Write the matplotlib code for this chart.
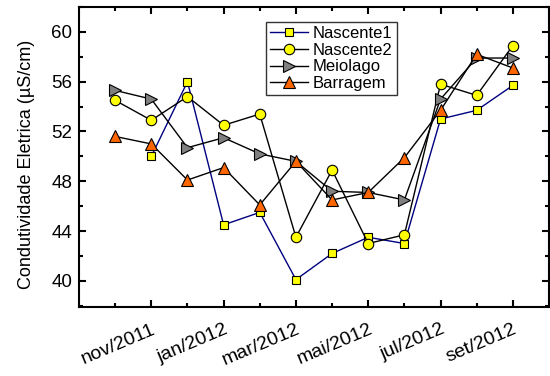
import numpy as np
import matplotlib
matplotlib.use("Agg")
import matplotlib.pyplot as plt
from matplotlib.ticker import FixedLocator, MultipleLocator

plt.rcParams['font.family'] = ['Liberation Sans', 'DejaVu Sans']

# month index 1..12 (out/2011 .. set/2012)
months = np.arange(1, 13)
tick_pos = [2, 4, 6, 8, 10, 12]
tick_labels = ["nov/2011", "jan/2012", "mar/2012", "mai/2012", "jul/2012", "set/2012"]

nascente1 = [np.nan, 50.0, 56.0, 44.5, 45.5, 40.1, 42.2, 43.5, 43.0, 53.0, 53.7, 55.7]
nascente2 = [54.5, 52.9, 54.8, 52.5, 53.4, 43.5, 48.9, 43.0, 43.7, 55.8, 54.9, 58.9]
meiolago = [55.3, 54.6, 50.7, 51.5, 50.2, 49.6, 47.2, 47.1, 46.5, 54.6, 57.9, 57.9]
barragem = [51.6, 51.0, 48.1, 49.1, 46.1, 49.6, 46.5, 47.1, 49.9, 53.7, 58.2, 57.1]

fig = plt.figure(figsize=(5.5, 3.76), dpi=100)
ax = fig.add_axes([79/550, 1-307/376, 470/550, 300/376])

ax.plot(months, nascente1, color='#000080', lw=1.0, marker='s', ms=6,
        mfc='#FFFF00', mec='black', mew=0.8, label='Nascente1')
ax.plot(months, nascente2, color='black', lw=1.0, marker='o', ms=7.5,
        mfc='#FFFF00', mec='black', mew=0.8, label='Nascente2')
ax.plot(months, meiolago, color='black', lw=1.0, marker='>', ms=8.5,
        mfc='#808080', mec='black', mew=0.8, label='Meiolago')
ax.plot(months, barragem, color='black', lw=1.0, marker='^', ms=8.5,
        mfc='#FF6600', mec='black', mew=0.8, label='Barragem')

ax.set_xlim(0, 13)
ax.set_ylim(37.9, 62.0)

ax.xaxis.set_major_locator(FixedLocator(tick_pos))
ax.xaxis.set_minor_locator(FixedLocator([1, 3, 5, 7, 9, 11]))
ax.set_xticklabels(tick_labels, rotation=23, ha='right', va='top',
                   rotation_mode='anchor', fontsize=14)
ax.yaxis.set_major_locator(MultipleLocator(4))
ax.yaxis.set_minor_locator(MultipleLocator(2))
ax.set_yticks([40, 44, 48, 52, 56, 60])
ax.tick_params(axis='y', labelsize=13.5)

ax.tick_params(which='both', direction='in', top=True, right=True, width=1.5)
ax.tick_params(which='major', length=5)
ax.tick_params(which='minor', length=3)
ax.tick_params(axis='x', which='major', pad=10)
ax.tick_params(axis='y', which='major', pad=5)

for s in ax.spines.values():
    s.set_linewidth(1.5)

ax.set_ylabel("Condutividade Eletrica (\u00b5S/cm)", fontsize=13)
ax.yaxis.set_label_coords(-0.093, 0.477)

leg = ax.legend(loc='upper left', bbox_to_anchor=(0.397, 0.95), borderaxespad=0,
                fontsize=12, frameon=True, fancybox=False, handlelength=2.3,
                labelspacing=0.1, borderpad=0.25, handletextpad=0.3)
leg.get_frame().set_edgecolor('black')
leg.get_frame().set_linewidth(1.0)

fig.savefig("out.png", dpi=100)
